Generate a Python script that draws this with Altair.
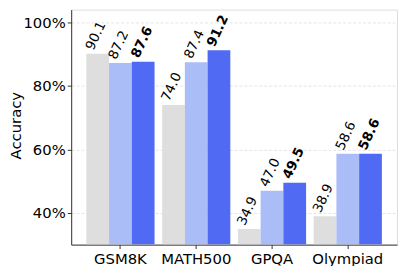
import altair as alt
import pandas as pd

categories = ["GSM8K", "MATH500", "GPQA", "Olympiad"]
series = ["Base", "Variant", "Ours"]
base_vals = [90.1, 74.0, 34.9, 38.9]
variant_vals = [87.2, 87.4, 47.0, 58.6]
ours_vals = [87.6, 91.2, 49.5, 58.6]
colors = ["#dedede", "#abbdf7", "#506af3"]
y_ticks = [40, 60, 80, 100]

rows = []
for i, c in enumerate(categories):
    for s, vals in zip(series, [base_vals, variant_vals, ours_vals]):
        rows.append({"category": c, "series": s, "value": vals[i]})
df = pd.DataFrame(rows)

FONT = "DejaVu Sans"

x = alt.X("category:N", sort=categories, title=None,
          scale=alt.Scale(paddingInner=0.1, paddingOuter=0.2),
          axis=alt.Axis(labelAngle=0, labelFontSize=15, labelColor="black",
                        tickSize=4, tickColor="#333", domainColor="#333",
                        labelPadding=3, labelFont=FONT))
xo = alt.XOffset("series:N", sort=series, scale=alt.Scale(paddingInner=0, paddingOuter=0))
y = alt.Y("value:Q", title="Accuracy",
          scale=alt.Scale(domain=[30, 104], zero=False, nice=False),
          axis=alt.Axis(values=y_ticks, labelExpr="datum.value + '%'",
                        labelFontSize=15, labelColor="black", labelFont=FONT,
                        tickSize=4, tickColor="#333", domainColor="#333",
                        grid=True, gridColor="#dddddd", gridDash=[3, 2], gridWidth=0.8,
                        titleFontSize=15, titleFontWeight="normal", titleColor="black",
                        titleFont=FONT, titleX=-56.5, titleY=117, titleAngle=270,
                        titleAlign="center", titleBaseline="middle"))

bars = alt.Chart(df).mark_bar(clip=True).encode(
    x=x, xOffset=xo, y=y, y2=alt.datum(30),
    color=alt.Color("series:N", sort=series, legend=None,
                    scale=alt.Scale(domain=series, range=colors)),
)

text_common = dict(angle=295, align="left", baseline="middle", dx=0.7, dy=-9.3,
                   fontSize=13.5, font=FONT, color="black")

labels_norm = alt.Chart(df).transform_filter("datum.series != 'Ours'").mark_text(
    **text_common).encode(
    x=x, xOffset=xo, y=y, text=alt.Text("value:Q", format=".1f"))

labels_bold = alt.Chart(df).transform_filter("datum.series == 'Ours'").mark_text(
    fontWeight="bold", **text_common).encode(
    x=x, xOffset=xo, y=y, text=alt.Text("value:Q", format=".1f"))

chart = alt.layer(bars, labels_norm, labels_bold).properties(
    width=330, height=238,
    autosize=alt.AutoSizeParams(type="none"),
    padding={"left": 64, "top": 0, "right": 2, "bottom": 20},
).configure_view(stroke="#333", strokeWidth=1).configure(background="white")

chart.save("out.html", embed_options={"renderer": "svg", "actions": False})
